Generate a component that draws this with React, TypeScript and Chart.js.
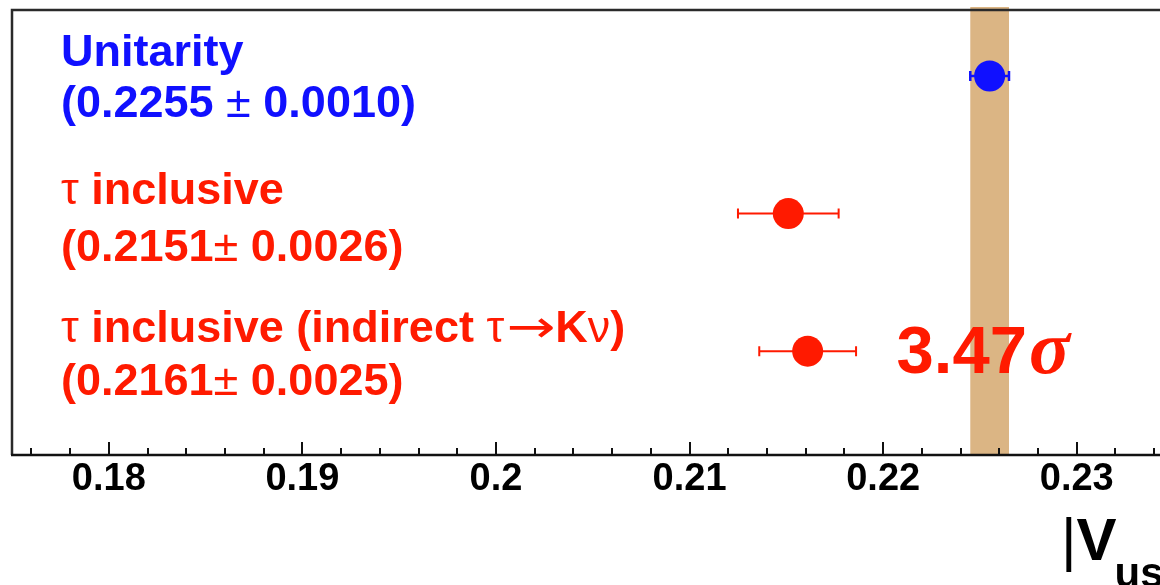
import React, { useEffect, useRef } from "react";
import { Chart, registerables } from "chart.js";

Chart.register(...registerables);

// ---- data ----
const CATEGORIES = ["Unitarity", "τ inclusive", "τ inclusive (indirect τ→Kν)"];
const VALUE_TEXTS = ["(0.2255 ± 0.0010)", "(0.2151± 0.0026)", "(0.2161± 0.0025)"];
const CENTRAL = [0.2255, 0.2151, 0.2161];
const ERRORS = [0.001, 0.0026, 0.0025];
const ROWS = [3, 2, 1];
const MAJOR_TICKS = [0.18, 0.19, 0.2, 0.21, 0.22, 0.23];
const MINOR_TICKS = [
  0.176, 0.178, 0.182, 0.184, 0.186, 0.188, 0.192, 0.194, 0.196, 0.198,
  0.202, 0.204, 0.206, 0.208, 0.212, 0.214, 0.216, 0.218, 0.222, 0.224,
  0.226, 0.228, 0.232, 0.234,
];
const SIGMA_NUMBER = "3.47";
const SIGMA_SYMBOL = "σ";
const SIGMA_X = 0.221;

// ---- styles ----
const BLUE = "#1010ff";
const RED = "#ff1a00";
const BAND_COLOR = "#dbb584";
const COLORS = [BLUE, RED, RED];
const FAMILY = '"Liberation Sans", Arial, Helvetica, sans-serif';
const LINE1_OFFSET = [-10, -10, -9];
const LINE2_OFFSET = [41, 47, 44];
const THIN_CHARS = "τν→±";
const ARROW_STRETCH = 1.3;

function drawMixed(ctx: CanvasRenderingContext2D, text: string, x: number, y: number, size: number) {
  const runs: { t: string; thin: boolean }[] = [];
  for (const ch of Array.from(text)) {
    const thin = THIN_CHARS.includes(ch);
    const last = runs[runs.length - 1];
    if (last && last.thin === thin) last.t += ch;
    else runs.push({ t: ch, thin });
  }
  let cx = x;
  for (const r of runs) {
    if (r.thin && r.t.includes("→")) {
      for (const ch of Array.from(r.t)) {
        if (ch === "→") {
          ctx.font = `normal ${size}px "DejaVu Sans", ${FAMILY}`;
          const aw = ctx.measureText(ch).width;
          ctx.save();
          ctx.translate(cx + 2, y);
          ctx.scale(ARROW_STRETCH, 1);
          ctx.fillText(ch, 0, 0);
          ctx.restore();
          cx += aw * ARROW_STRETCH + 2;
        } else {
          ctx.font = `normal ${size}px ${FAMILY}`;
          ctx.fillText(ch, cx, y);
          cx += ctx.measureText(ch).width;
        }
      }
      continue;
    }
    ctx.font = `${r.thin ? "normal" : "bold"} ${size}px ${FAMILY}`;
    ctx.fillText(r.t, cx, y);
    cx += ctx.measureText(r.t).width;
  }
}

const decorPlugin = {
  id: "decor",
  beforeDatasetsDraw(chart: any) {
    const { ctx, chartArea, scales } = chart;
    const xs = scales.x;
    const ys = scales.y;
    ctx.save();
    // band
    const bx0 = xs.getPixelForValue(CENTRAL[0] - ERRORS[0]);
    const bx1 = xs.getPixelForValue(CENTRAL[0] + ERRORS[0]);
    ctx.fillStyle = BAND_COLOR;
    ctx.fillRect(bx0, chartArea.top - 3, bx1 - bx0, chartArea.bottom - chartArea.top + 2);
    // frame
    ctx.strokeStyle = "#2a2a2a";
    ctx.lineWidth = 2.5;
    ctx.beginPath();
    ctx.moveTo(chartArea.left, chartArea.bottom);
    ctx.lineTo(chartArea.left, chartArea.top);
    ctx.lineTo(chartArea.right + 5, chartArea.top);
    ctx.stroke();
    ctx.strokeStyle = "#111";
    ctx.beginPath();
    ctx.moveTo(chartArea.left - 1, chartArea.bottom);
    ctx.lineTo(chartArea.right + 5, chartArea.bottom);
    ctx.stroke();
    // ticks
    ctx.lineWidth = 2;
    ctx.beginPath();
    for (const v of MAJOR_TICKS) {
      const px = Math.round(xs.getPixelForValue(v));
      ctx.moveTo(px, chartArea.bottom);
      ctx.lineTo(px, chartArea.bottom - 13);
    }
    for (const v of MINOR_TICKS) {
      const px = Math.round(xs.getPixelForValue(v));
      ctx.moveTo(px, chartArea.bottom);
      ctx.lineTo(px, chartArea.bottom - 7);
    }
    ctx.stroke();
    // error bars
    CENTRAL.forEach((c, i) => {
      const y = ys.getPixelForValue(ROWS[i]);
      const x0 = xs.getPixelForValue(c - ERRORS[i]);
      const x1 = xs.getPixelForValue(c + ERRORS[i]);
      ctx.strokeStyle = COLORS[i];
      ctx.lineWidth = i === 0 ? 2.5 : 2;
      const cap = 5;
      ctx.beginPath();
      ctx.moveTo(x0, y);
      ctx.lineTo(x1, y);
      ctx.moveTo(x0, y - cap);
      ctx.lineTo(x0, y + cap);
      ctx.moveTo(x1, y - cap);
      ctx.lineTo(x1, y + cap);
      ctx.stroke();
    });
    ctx.restore();
  },
  afterDatasetsDraw(chart: any) {
    const { ctx, chartArea, scales } = chart;
    const xs = scales.x;
    const ys = scales.y;
    ctx.save();
    ctx.textAlign = "left";
    ctx.textBaseline = "alphabetic";
    const tx = chartArea.left + 49;
    CATEGORIES.forEach((cat, i) => {
      const y = ys.getPixelForValue(ROWS[i]);
      ctx.fillStyle = COLORS[i];
      drawMixed(ctx, cat, tx, y + LINE1_OFFSET[i], 45);
      drawMixed(ctx, VALUE_TEXTS[i], tx, y + LINE2_OFFSET[i], 45);
    });
    // significance
    const sy = ys.getPixelForValue(ROWS[2]) + 22;
    const sx = xs.getPixelForValue(SIGMA_X) - 6;
    ctx.fillStyle = RED;
    ctx.font = `bold 67px ${FAMILY}`;
    ctx.fillText(SIGMA_NUMBER, sx, sy);
    const w = ctx.measureText(SIGMA_NUMBER).width;
    ctx.font = `italic bold 76px "Liberation Serif", "Times New Roman", serif`;
    ctx.fillText(SIGMA_SYMBOL, sx + w + 2, sy);
    // axis title |V_us|
    ctx.fillStyle = "#000";
    let ax = 1061;
    ctx.font = `normal 60px ${FAMILY}`;
    ctx.fillText("|", ax, 560);
    ax += ctx.measureText("|").width;
    ctx.font = `bold 60px ${FAMILY}`;
    ctx.fillText("V", ax, 560);
    ax += ctx.measureText("V").width;
    ctx.font = `bold 42px ${FAMILY}`;
    ctx.fillText("us", ax - 2, 587);
    ax += ctx.measureText("us").width;
    ctx.font = `normal 60px ${FAMILY}`;
    ctx.fillText("|", ax, 560);
    ctx.restore();
  },
};

export default function App() {
  const ref = useRef<HTMLCanvasElement | null>(null);
  useEffect(() => {
    if (!ref.current) return;
    const chart = new Chart(ref.current, {
      type: "scatter",
      data: {
        datasets: [
          {
            data: CENTRAL.map((c, i) => ({ x: c, y: ROWS[i] })),
            pointRadius: 15.5,
            pointHoverRadius: 15.5,
            pointBackgroundColor: COLORS,
            pointBorderWidth: 0,
            clip: false as any,
          },
        ],
      },
      options: {
        animation: false,
        responsive: false,
        events: [],
        layout: { autoPadding: false, padding: { left: 12, top: 10, right: 0, bottom: 0 } },
        plugins: { legend: { display: false }, tooltip: { enabled: false } },
        scales: {
          x: {
            type: "linear",
            min: 0.175,
            max: 0.2343,
            grid: { display: false },
            border: { display: false },
            afterBuildTicks: (s: any) => {
              s.ticks = MAJOR_TICKS.map((v) => ({ value: v }));
            },
            afterFit: (s: any) => {
              s.height = 130;
              s.paddingLeft = 0;
              s.paddingRight = 0;
              s.paddingTop = 0;
              s.paddingBottom = 0;
            },
            ticks: {
              autoSkip: false,
              maxRotation: 0,
              minRotation: 0,
              padding: -6,
              color: "#000",
              font: { family: FAMILY, size: 38, weight: "bold" },
              callback: (v: any) => String(Math.round(Number(v) * 1000) / 1000),
            },
          },
          y: { type: "linear", min: 0.245, max: 3.48, display: false },
        },
      },
      plugins: [decorPlugin],
    });
    return () => chart.destroy();
  }, []);
  return (
    <div style={{ position: "absolute", left: 0, top: 0, width: 1160, height: 585, background: "#fff" }}>
      <canvas ref={ref} width={1160} height={585} style={{ display: "block" }} />
    </div>
  );
}
